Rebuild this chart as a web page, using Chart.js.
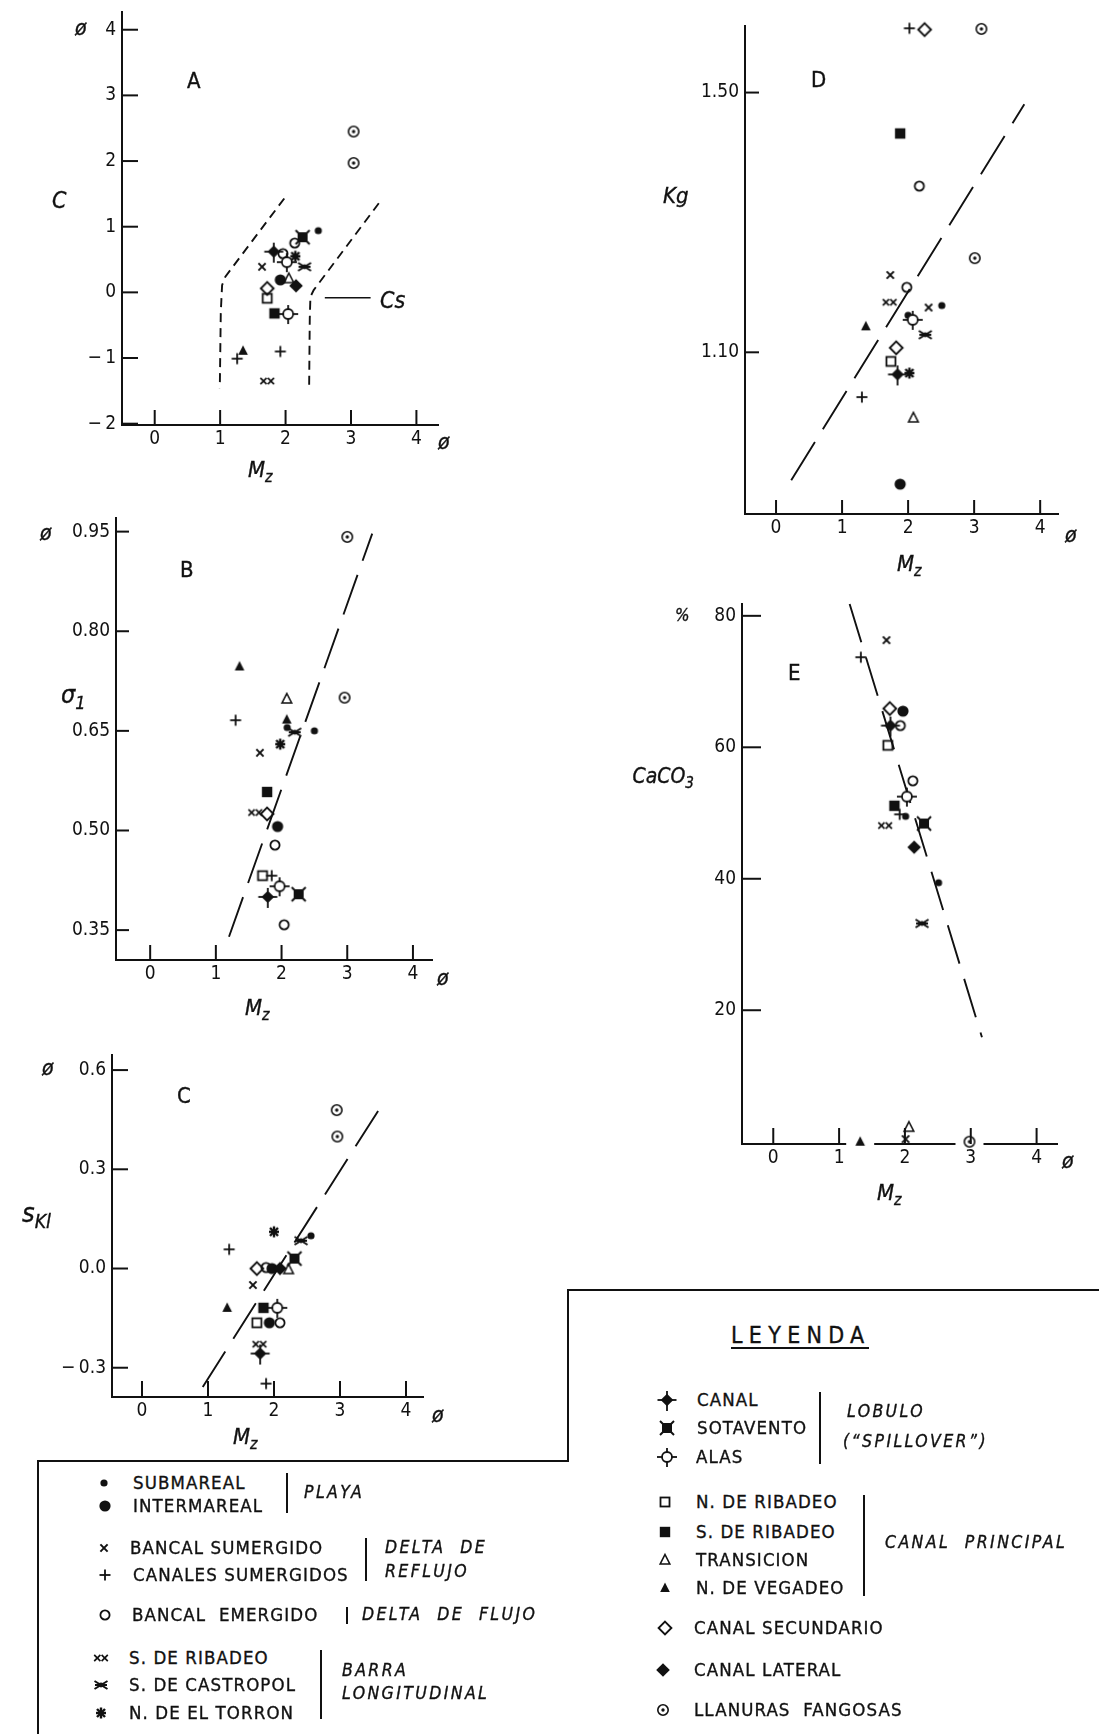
<!DOCTYPE html>
<html>
<head>
<meta charset="utf-8">
<script src="https://cdn.jsdelivr.net/npm/chart.js@4.4.1/dist/chart.umd.min.js"></script>
<style>
body{margin:0;background:#fff;width:1099px;height:1734px;position:relative;overflow:hidden;
  font-family:'DejaVu Sans Condensed','DejaVu Sans',sans-serif;font-stretch:condensed;color:#111}
.t{position:absolute;white-space:nowrap;line-height:1;transform:translateY(-50%);-webkit-text-stroke:0.35px #111}
.i{font-style:italic}
canvas{position:absolute}
.ln{position:absolute;background:#111}
sub{font-size:0.72em;vertical-align:0;position:relative;top:0.32em}
</style>
</head>
<body>
<script>
// ---- data (Mz in phi units on every x axis)
const xTicks = [0, 1, 2, 3, 4]
const aTicks = [-2, -1, 0, 1, 2, 3, 4]
const bTicks = [0.35, 0.50, 0.65, 0.80, 0.95]
const cTicks = [-0.3, 0.0, 0.3, 0.6]
const dTicks = [1.10, 1.50]
const eTicks = [20, 40, 60, 80]

// A: C vs Mz
const aX = [3.04, 3.04, 2.50, 2.26, 2.14, 1.96, 1.82, 2.15, 2.02, 1.64, 2.29, 1.92, 2.05, 2.16, 1.72, 1.72, 1.83, 2.04, 1.26, 1.92, 1.35, 1.72]
const aY = [2.45, 1.97, 0.94, 0.84, 0.75, 0.59, 0.62, 0.55, 0.46, 0.39, 0.39, 0.19, 0.21, 0.10, 0.06, -0.09, -0.32, -0.33, -1.01, -0.90, -0.89, -1.35]
const aS = ['llf','llf','sub','sot','bem','bem','can','nto','ala','bsu','sca','int','tra','cla','cse','nri','src','ala','csu','csu','nve','sri']
const aLimX1 = [1.98, 1.08, 1.03, 1.01, 0.995]
const aLimY1 = [1.43, 0.24, 0.11, -0.30, -1.46]
const aLimX2 = [3.425, 2.43, 2.38, 2.37, 2.36]
const aLimY2 = [1.357, 0.035, -0.067, -0.40, -1.49]
const aCsX = [2.60, 3.30]
const aCsY = [-0.082, -0.082]

// B: sigma1 vs Mz
const bX = [3.00, 2.96, 1.36, 2.08, 1.30, 2.08, 2.085, 2.20, 2.50, 1.98, 1.67, 1.78, 1.60, 1.78, 1.94, 1.90, 1.71, 1.85, 1.97, 1.79, 2.26, 2.04]
const bY = [0.942, 0.700, 0.747, 0.698, 0.666, 0.667, 0.655, 0.648, 0.650, 0.630, 0.617, 0.558, 0.527, 0.525, 0.506, 0.478, 0.432, 0.432, 0.416, 0.400, 0.404, 0.358]
const bS = ['llf','llf','nve','tra','csu','nve','sub','sca','sub','nto','bsu','src','sri','cse','int','bem','nri','csu','ala','can','sot','bem']
const bFitX = [1.20, 3.38]
const bFitY = [0.340, 0.947]

// C: SKl vs Mz
const cX = [2.95, 2.96, 2.00, 2.56, 2.41, 1.32, 2.31, 1.74, 1.88, 1.97, 2.09, 2.22, 1.68, 1.29, 1.84, 2.05, 1.74, 1.93, 2.09, 1.78, 1.79, 1.88]
const cY = [0.479, 0.399, 0.111, 0.099, 0.084, 0.058, 0.030, 0.0, 0.003, 0.0, 0.0, -0.003, -0.050, -0.119, -0.119, -0.119, -0.164, -0.164, -0.164, -0.229, -0.257, -0.348]
const cS = ['llf','llf','nto','sub','sca','csu','sot','cse','bem','int','cla','tra','bsu','nve','src','ala','nri','int','bem','sri','can','csu']
const cFitX = [0.92, 3.70]
const cFitY = [-0.358, 0.515]

// D: Kg vs Mz
const dX = [2.02, 2.25, 3.11, 1.88, 2.17, 3.01, 1.73, 1.98, 1.72, 2.31, 2.51, 2.00, 2.07, 1.36, 2.26, 1.82, 1.74, 1.84, 2.02, 1.30, 2.08, 1.88]
const dY = [1.599, 1.597, 1.598, 1.437, 1.356, 1.245, 1.219, 1.200, 1.177, 1.169, 1.172, 1.157, 1.150, 1.140, 1.127, 1.107, 1.086, 1.066, 1.068, 1.031, 0.999, 0.897]
const dS = ['csu','cse','llf','src','bem','llf','bsu','bem','sri','bsu','sub','sub','ala','nve','sca','cse','nri','can','nto','csu','tra','int']
const dFitX = [0.23, 3.76]
const dFitY = [0.903, 1.482]

// E: CaCO3 (%) vs Mz
const eX = [1.72, 1.33, 1.77, 1.97, 1.78, 1.93, 1.74, 2.12, 2.03, 1.84, 1.92, 2.01, 1.70, 2.29, 2.14, 2.51, 2.26, 2.06, 2.01, 1.32, 2.98]
const eY = [76.3, 73.7, 65.9, 65.5, 63.3, 63.3, 60.3, 54.9, 52.5, 51.1, 49.8, 49.5, 48.1, 48.4, 44.8, 39.4, 33.2, 2.2, 0.4, 0, 0]
const eS = ['bsu','csu','cse','int','can','bem','nri','bem','ala','src','csu','sub','sri','sot','cla','sub','sca','tra','bsu','nve','llf']
const eFitX = [1.16, 3.17]
const eFitY = [81.8, 15.9]

const INK = '#111'
const FONT = "'DejaVu Sans Condensed','DejaVu Sans',sans-serif"

// ---- marker glyphs
function marker(kind, halo) {
  const c = document.createElement('canvas')
  c.width = 30; c.height = 30
  const g = c.getContext('2d')
  g.translate(15, 15)
  if (halo) { g.fillStyle = '#fff'; g.fillRect(-14, -5, 28, 10) }
  g.strokeStyle = INK; g.fillStyle = INK; g.lineWidth = 1.8
  const line = (x1, y1, x2, y2) => { g.beginPath(); g.moveTo(x1, y1); g.lineTo(x2, y2); g.stroke() }
  const circ = (r, fill) => { g.beginPath(); g.arc(0, 0, r, 0, Math.PI * 2); fill ? g.fill() : g.stroke() }
  const diam = (h, fill) => { g.beginPath(); g.moveTo(0, -h); g.lineTo(h, 0); g.lineTo(0, h); g.lineTo(-h, 0); g.closePath(); fill ? g.fill() : g.stroke() }
  const tri = (fill) => { g.beginPath(); g.moveTo(0, -5.5); g.lineTo(4.8, 4); g.lineTo(-4.8, 4); g.closePath(); fill ? g.fill() : g.stroke() }
  const ex = (cx, h) => { line(cx - h, -h, cx + h, h); line(cx - h, h, cx + h, -h) }
  switch (kind) {
    case 'sub': circ(3.6, true); break
    case 'int': circ(5.6, true); break
    case 'bsu': g.lineWidth = 2; ex(0, 3.6); break
    case 'csu': line(-5.5, 0, 5.5, 0); line(0, -5.5, 0, 5.5); break
    case 'bem': circ(4.6, false); break
    case 'sri': g.lineWidth = 1.7; ex(-3.7, 3.1); ex(3.7, 3.1); break
    case 'sca': g.lineWidth = 2; line(-6.5, -4, 6.5, 4); line(-6.5, 4, 6.5, -4); line(-6, 0, 6, 0); circ(2.4, true); break
    case 'nto': g.lineWidth = 2.4; line(-5, 0, 5, 0); line(0, -5.5, 0, 5.5); line(-4, -4, 4, 4); line(-4, 4, 4, -4); break
    case 'can': line(-9.5, 0, 9.5, 0); line(0, -9, 0, 11); diam(6.3, true); break
    case 'sot': g.lineWidth = 2; line(-7, -7, 7, 7); line(-7, 7, 7, -7); g.fillRect(-5, -5, 10, 10); break
    case 'ala': line(-10, 0, 10, 0); line(0, -9, 0, 10); g.fillStyle = '#fff'; circ(5, true); g.fillStyle = INK; circ(5, false); break
    case 'nri': g.strokeRect(-4.5, -4.5, 9, 9); break
    case 'src': g.fillRect(-5.2, -5.2, 10.4, 10.4); break
    case 'tra': g.lineWidth = 1.6; tri(false); break
    case 'nve': tri(true); break
    case 'cse': g.lineWidth = 1.9; diam(6.4, false); break
    case 'cla': diam(6.8, true); break
    case 'llf': g.lineWidth = 1.6; circ(5.2, false); circ(1.7, true); break
  }
  return c
}
const KINDS = ['sub','int','bsu','csu','bem','sri','sca','nto','can','sot','ala','nri','src','tra','nve','cse','cla','llf']
const MK = {}, MKH = {}
KINDS.forEach(k => { MK[k] = marker(k, false); MKH[k] = marker(k, true) })

// ---- inward tick marks drawn from the scales
const inTicks = {
  id: 'inTicks',
  afterDatasetsDraw(chart, args, o) {
    const g = chart.ctx, a = chart.chartArea
    const sx = chart.scales.x, sy = chart.scales.y
    g.save(); g.strokeStyle = INK; g.lineWidth = 2
    sx.ticks.forEach(t => { const p = sx.getPixelForValue(t.value); g.beginPath(); g.moveTo(p, a.bottom); g.lineTo(p, a.bottom - o.xl); g.stroke() })
    sy.ticks.forEach(t => { const p = sy.getPixelForValue(t.value); g.beginPath(); g.moveTo(a.left, p); g.lineTo(a.left + o.yl, p); g.stroke() })
    g.restore()
  }
}

function pts(xs, ys) { return xs.map((x, i) => ({ x: x, y: ys[i] })) }

function panel(p) {
  const PL = 70, PT = 20, PR = 24, PB = 46
  const cv = document.createElement('canvas')
  cv.width = p.box[2] - p.box[0] + PL + PR
  cv.height = p.box[3] - p.box[1] + PT + PB
  cv.style.left = (p.box[0] - PL) + 'px'
  cv.style.top = (p.box[1] - PT) + 'px'
  document.body.appendChild(cv)

  const styles = p.s.map((k, i) => (p.halo && p.y[i] === 0) ? MKH[k] : MK[k])
  const datasets = [{
    data: pts(p.x, p.y), pointStyle: styles, pointRadius: 6, clip: false, showLine: false
  }]
  p.lines.forEach(l => datasets.push({
    data: pts(l[0], l[1]), showLine: true, pointRadius: 0, borderColor: INK,
    borderWidth: l[3] || 1.9, borderDash: l[2], fill: false, tension: 0, clip: false
  }))

  new Chart(cv, {
    type: 'scatter',
    data: { datasets: datasets },
    options: {
      responsive: false, animation: false, events: [],
      layout: { padding: { top: PT, right: PR, left: 0, bottom: 0 } },
      plugins: { legend: { display: false }, tooltip: { enabled: false }, inTicks: { xl: p.tl[0], yl: p.tl[1] } },
      scales: {
        x: {
          type: 'linear', min: p.xr[0], max: p.xr[1],
          grid: { display: false, drawTicks: false },
          border: { display: true, color: INK, width: 2 },
          ticks: { font: { family: FONT, size: 19 }, color: INK, padding: 3, callback: v => String(v) },
          afterBuildTicks: s => { s.ticks = xTicks.map(v => ({ value: v })) },
          afterFit: s => { s.height = PB }
        },
        y: {
          type: 'linear', min: p.yr[0], max: p.yr[1],
          grid: { display: false, drawTicks: false },
          border: { display: true, color: INK, width: 2 },
          ticks: { font: { family: FONT, size: 19 }, color: INK, padding: 6, callback: p.fmt },
          afterBuildTicks: s => { s.ticks = p.yt.map(v => ({ value: v })) },
          afterFit: s => { s.width = PL }
        }
      }
    },
    plugins: [inTicks]
  })
}

const minus = s => s.replace('-', '\u2212\u2009')

panel({ box: [122, 12, 438, 425], xr: [-0.5, 4.33], yr: [-2.02, 4.27], yt: aTicks, fmt: v => minus(String(v)),
  x: aX, y: aY, s: aS, tl: [15, 16],
  lines: [[aLimX1, aLimY1, [9, 6]], [aLimX2, aLimY2, [9, 6]], [aCsX, aCsY, [], 1.6]] })
panel({ box: [116, 518, 432, 960], xr: [-0.52, 4.29], yr: [0.305, 0.9705], yt: bTicks, fmt: v => v.toFixed(2),
  x: bX, y: bY, s: bS, tl: [15, 13], lines: [[bFitX, bFitY, [42, 15]]] })
panel({ box: [112, 1055, 423, 1397], xr: [-0.455, 4.258], yr: [-0.3885, 0.6456], yt: cTicks, fmt: v => minus(v.toFixed(1)),
  x: cX, y: cY, s: cS, tl: [16, 16], lines: [[cFitX, cFitY, [42, 15]]] })
panel({ box: [745, 26, 1058, 514], xr: [-0.47, 4.27], yr: [0.851, 1.6025], yt: dTicks, fmt: v => v.toFixed(2),
  x: dX, y: dY, s: dS, tl: [14, 14], lines: [[dFitX, dFitY, [45, 15]]] })
panel({ box: [742, 604, 1057, 1144], xr: [-0.475, 4.31], yr: [-0.35, 81.8], yt: eTicks, fmt: v => String(v),
  x: eX, y: eY, s: eS, tl: [16, 19], halo: true, lines: [[eFitX, eFitY, [40, 16]]] })

// ---- text and frame
function txt(s, x, y, size, o) {
  o = o || {}
  const d = document.createElement('div')
  d.className = 't' + (o.it ? ' i' : '')
  d.innerHTML = s
  d.style.left = x + 'px'; d.style.top = y + 'px'; d.style.fontSize = size + 'px'
  if (o.ls) d.style.letterSpacing = o.ls + 'px'
  if (o.right) d.style.transform = 'translate(-100%,-50%)'
  document.body.appendChild(d)
  return d
}
function rule(x, y, w, h) {
  const d = document.createElement('div'); d.className = 'ln'
  d.style.left = x + 'px'; d.style.top = y + 'px'; d.style.width = w + 'px'; d.style.height = h + 'px'
  document.body.appendChild(d)
}
const MZ = 'M<sub>z</sub>'
const PHI = '\u00f8'

// panel A
txt('A', 187, 81, 22); txt('C', 52, 200, 23, { it: 1 }); txt(PHI, 75, 28, 21, { it: 1 })
txt(PHI, 438, 442, 21, { it: 1 }); txt(MZ, 248, 470, 22, { it: 1 }); txt('Cs', 380, 300, 23, { it: 1 })
// panel B
txt('B', 180, 570, 22); txt('\u03c3<sub>1</sub>', 61, 694, 25, { it: 1 }); txt(PHI, 40, 533, 21, { it: 1 })
txt(PHI, 437, 978, 21, { it: 1 }); txt(MZ, 245, 1008, 22, { it: 1 })
// panel C
txt('C', 177, 1096, 22); txt('s<sub>Kl</sub>', 22, 1212, 27, { it: 1 }); txt(PHI, 42, 1068, 21, { it: 1 })
txt(PHI, 432, 1415, 21, { it: 1 }); txt(MZ, 233, 1437, 22, { it: 1 })
// panel D
txt('D', 811, 80, 22); txt('Kg', 663, 196, 22, { it: 1 })
txt(PHI, 1065, 535, 21, { it: 1 }); txt(MZ, 897, 564, 22, { it: 1 })
// panel E
txt('E', 788, 673, 22); txt('%', 675, 615, 17, { it: 1 }); txt('CaCO<sub>3</sub>', 694, 776, 21, { it: 1, right: 1 })
txt(PHI, 1062, 1161, 21, { it: 1 }); txt(MZ, 877, 1193, 22, { it: 1 })

// legend frame
rule(37, 1460, 532, 2); rule(37, 1460, 2, 274); rule(567, 1289, 2, 173); rule(567, 1289, 532, 2)

function key(kind, x, y) {
  const c = marker(kind, false)
  c.style.left = (x - 15) + 'px'; c.style.top = (y - 15) + 'px'
  document.body.appendChild(c)
}
const LS = 1.1, FS = 18.5, IS = 17.5, ILS = 2.4

// left block
key('sub', 104, 1483); txt('SUBMAREAL', 133, 1483, FS, { ls: LS })
key('int', 105, 1506); txt('INTERMAREAL', 133, 1506, FS, { ls: LS })
rule(286, 1473, 1.6, 40); txt('PLAYA', 304, 1493, IS, { it: 1, ls: ILS })
key('bsu', 104, 1548); txt('BANCAL SUMERGIDO', 130, 1548, FS, { ls: LS })
key('csu', 105, 1575); txt('CANALES SUMERGIDOS', 133, 1575, FS, { ls: LS })
rule(365, 1538, 1.6, 43); txt('DELTA&nbsp;&nbsp;DE', 385, 1548, IS, { it: 1, ls: ILS }); txt('REFLUJO', 385, 1572, IS, { it: 1, ls: ILS })
key('bem', 105, 1615); txt('BANCAL&nbsp;&nbsp;EMERGIDO', 132, 1615, FS, { ls: LS })
rule(346, 1607, 1.6, 17); txt('DELTA&nbsp;&nbsp;DE&nbsp;&nbsp;FLUJO', 362, 1615, IS, { it: 1, ls: ILS })
key('sri', 101, 1658); txt('S. DE RIBADEO', 129, 1658, FS, { ls: LS })
key('sca', 101, 1685); txt('S. DE CASTROPOL', 129, 1685, FS, { ls: LS })
key('nto', 101, 1713); txt('N. DE EL TORRON', 129, 1713, FS, { ls: LS })
rule(320, 1650, 1.6, 69); txt('BARRA', 342, 1671, IS, { it: 1, ls: ILS }); txt('LONGITUDINAL', 342, 1694, IS, { it: 1, ls: ILS })

// right block
txt('LEYENDA', 731, 1335, 23, { ls: 6.3 }); rule(731, 1347, 138, 2)
key('can', 667, 1400); txt('CANAL', 697, 1400, FS, { ls: LS })
key('sot', 667, 1428); txt('SOTAVENTO', 697, 1428, FS, { ls: LS })
key('ala', 667, 1457); txt('ALAS', 696, 1457, FS, { ls: LS })
rule(819, 1392, 1.6, 72); txt('LOBULO', 847, 1412, IS, { it: 1, ls: ILS }); txt('(\u201cSPILLOVER\u201d)', 843, 1442, IS, { it: 1, ls: ILS })
key('nri', 665, 1502); txt('N. DE RIBADEO', 696, 1502, FS, { ls: LS })
key('src', 665, 1532); txt('S. DE RIBADEO', 696, 1532, FS, { ls: LS })
key('tra', 665, 1560); txt('TRANSICION', 696, 1560, FS, { ls: LS })
key('nve', 665, 1588); txt('N. DE VEGADEO', 696, 1588, FS, { ls: LS })
rule(863, 1495, 1.6, 101); txt('CANAL&nbsp;&nbsp;PRINCIPAL', 885, 1543, IS, { it: 1, ls: ILS })
key('cse', 665, 1628); txt('CANAL SECUNDARIO', 694, 1628, FS, { ls: LS })
key('cla', 663, 1670); txt('CANAL LATERAL', 694, 1670, FS, { ls: LS })
key('llf', 663, 1710); txt('LLANURAS&nbsp;&nbsp;FANGOSAS', 694, 1710, FS, { ls: LS })
</script>
</body>
</html>
